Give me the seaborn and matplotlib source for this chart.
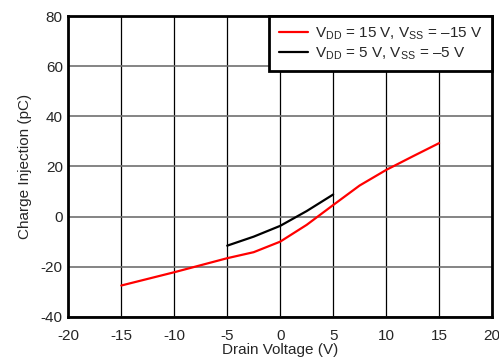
import numpy as np
import matplotlib.pyplot as plt
import pandas as pd
import seaborn as sns

# values
drain_15 = [-15, -10, -5, -2.5, 0, 2.5, 5, 7.5, 10, 12.5, 15]
charge_15 = [-27.5, -22.2, -16.6, -14.2, -10.0, -3.3, 4.6, 12.4, 18.6, 24.0, 29.3]
drain_5 = [-5, -2.5, 0, 2.5, 5]
charge_5 = [-11.6, -8.0, -3.7, 2.2, 8.8]
label_15 = r"V$_{\mathregular{DD}}$ = 15 V, V$_{\mathregular{SS}}$ = –15 V"
label_5 = r"V$_{\mathregular{DD}}$ = 5 V, V$_{\mathregular{SS}}$ = –5 V"
x_ticks = [-20, -15, -10, -5, 0, 5, 10, 15, 20]
y_ticks = [-40, -20, 0, 20, 40, 60, 80]

df = pd.concat([
    pd.DataFrame({"drain": drain_15, "charge": charge_15, "supply": label_15}),
    pd.DataFrame({"drain": drain_5, "charge": charge_5, "supply": label_5}),
])

sns.set_style("white")
plt.rcParams["font.family"] = ["Liberation Sans", "DejaVu Sans"]
plt.rcParams["mathtext.fontset"] = "custom"
plt.rcParams["mathtext.rm"] = "Liberation Sans"
plt.rcParams["axes.unicode_minus"] = False

fig, ax = plt.subplots(figsize=(4.99, 3.58), dpi=100)
fig.subplots_adjust(left=0.137, right=0.986, top=0.955, bottom=0.115)

# grid: black verticals, grey horizontals
for xv in x_ticks:
    ax.axvline(xv, color="black", lw=0.9, zorder=0)
for yv in y_ticks:
    ax.axhline(yv, color="#707070", lw=1.2, zorder=0)

sns.lineplot(data=df, x="drain", y="charge", hue="supply",
             palette={label_15: "#ff0000", label_5: "black"},
             lw=1.6, ax=ax, sort=False)

ax.set_xlim(-20, 20)
ax.set_ylim(-40, 80)
ax.set_xticks(x_ticks)
ax.set_yticks(y_ticks)
ax.tick_params(length=0, labelsize=11)
ax.tick_params(axis="x", pad=9)
ax.tick_params(axis="y", pad=4)
ax.set_xlabel("Drain Voltage (V)", fontsize=11, labelpad=0)
ax.set_ylabel("Charge Injection (pC)", fontsize=11, labelpad=6)
for s in ax.spines.values():
    s.set_linewidth(2)
    s.set_color("black")

leg = ax.legend(loc="upper right", fontsize=11, frameon=True, fancybox=False,
                borderaxespad=0, handlelength=1.9, handletextpad=0.5,
                borderpad=0.6, labelspacing=0.2)
leg.get_frame().set_edgecolor("black")
leg.get_frame().set_linewidth(2)
leg.get_frame().set_alpha(1)

fig.savefig("out.png", dpi=100)
